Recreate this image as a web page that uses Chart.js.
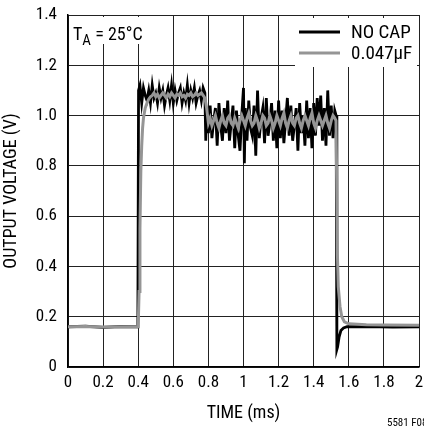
<!DOCTYPE html>
<html><head><meta charset="utf-8">
<script src="https://cdn.jsdelivr.net/npm/chart.js@4"></script>
<style>html,body{margin:0;padding:0;background:#fff;}canvas{display:block;}</style>
</head><body>
<canvas id="c" width="424" height="429"></canvas>
<script>
// ---- tick values / labels ----
const xTickValues = [0,0.2,0.4,0.6,0.8,1,1.2,1.4,1.6,1.8,2];
const xTickLabels = ['0','0.2','0.4','0.6','0.8','1','1.2','1.4','1.6','1.8','2'];
const yTickValues = [0,0.2,0.4,0.6,0.8,1,1.2,1.4];
const yTickLabels = ['0','0.2','0.4','0.6','0.8','1.0','1.2','1.4'];

// ---- series: NO CAP (black) ----
const noCapX = [0,0.1,0.2,0.3,0.398,0.402,
  0.41,0.42,0.43,0.44,0.45,0.46,0.47,0.48,0.49,0.50,0.51,0.52,0.53,0.54,0.55,0.56,0.57,0.58,0.59,0.60,
  0.61,0.62,0.63,0.64,0.65,0.66,0.67,0.68,0.69,0.70,0.71,0.72,0.73,0.74,0.75,0.76,0.77,
  0.78,0.785,0.79,0.80,
  0.81,0.82,0.83,0.84,0.85,0.86,0.87,0.88,0.89,0.90,0.91,0.92,0.93,0.94,0.95,0.96,0.97,0.98,0.99,1.00,1.005,
  1.01,1.02,1.03,1.04,1.05,1.06,1.07,1.08,1.09,1.10,1.11,1.12,1.13,1.14,1.15,1.16,1.17,1.18,1.19,1.20,
  1.21,1.22,1.23,1.24,1.25,1.26,1.27,1.28,1.29,1.30,1.31,1.32,1.33,1.34,1.35,1.36,1.37,1.38,1.39,1.40,
  1.41,1.42,1.43,1.44,1.45,1.46,1.47,1.48,1.49,1.50,1.51,1.52,
  1.528,1.532,1.536,1.545,1.555,1.57,1.59,1.7,1.85,2.0];
const noCapY = [0.16,0.162,0.158,0.161,0.16,1.10,
  1.12,1.05,1.11,1.08,1.06,1.10,1.05,1.12,1.07,1.09,1.05,1.11,1.07,1.10,1.04,1.08,1.11,1.06,1.12,1.05,
  1.10,1.06,1.09,1.11,1.05,1.09,1.06,1.12,1.05,1.10,1.07,1.11,1.05,1.08,1.10,1.06,1.11,
  1.09,0.90,1.02,0.93,
  1.04,0.91,0.98,1.03,0.88,1.05,0.96,0.90,1.03,0.93,1.06,0.90,0.97,1.04,0.87,1.02,0.92,0.86,1.00,1.11,0.81,
  1.03,0.90,1.06,0.95,0.92,1.04,0.84,1.10,0.91,0.99,1.03,0.89,1.07,0.92,0.97,1.05,0.90,1.02,0.87,1.06,
  0.91,1.02,0.89,0.98,1.07,0.92,1.04,0.90,0.96,1.03,0.86,1.05,0.93,1.00,0.88,1.06,0.91,1.03,0.87,1.05,
  0.92,1.07,0.96,1.08,0.90,1.03,0.88,1.10,0.92,1.04,0.91,1.02,
  1.00,0.07,0.08,0.12,0.145,0.155,0.16,0.161,0.159,0.16];

// ---- series: 0.047µF (gray) ----
const capX = [0,0.1,0.2,0.3,0.40,0.405,0.41,0.415,0.42,0.425,0.43,0.44,0.45,0.46,0.47,
  0.48,0.49,0.50,0.51,0.52,0.53,0.54,0.55,0.56,0.57,0.58,0.59,0.60,0.61,0.62,0.63,0.64,0.65,0.66,0.67,
  0.68,0.69,0.70,0.71,0.72,0.73,0.74,0.75,0.76,0.77,0.78,0.79,0.80,
  0.81,0.82,0.83,0.84,0.85,0.86,0.87,0.88,0.89,0.90,0.91,0.92,0.93,0.94,0.95,0.96,0.97,0.98,0.99,1.00,
  1.01,1.02,1.03,1.04,1.05,1.06,1.07,1.08,1.09,1.10,1.11,1.12,1.13,1.14,1.15,1.16,1.17,1.18,1.19,1.20,
  1.21,1.22,1.23,1.24,1.25,1.26,1.27,1.28,1.29,1.30,1.31,1.32,1.33,1.34,1.35,1.36,1.37,1.38,1.39,1.40,
  1.41,1.42,1.43,1.44,1.45,1.46,1.47,1.48,1.49,1.50,1.51,1.52,1.527,
  1.531,1.535,1.54,1.55,1.56,1.575,1.6,1.7,1.8,2.0];
const capY = [0.16,0.161,0.159,0.16,0.16,0.30,0.55,0.78,0.88,0.95,0.99,1.03,1.05,1.065,1.075,
  1.08,1.09,1.075,1.085,1.07,1.08,1.09,1.08,1.07,1.085,1.075,1.09,1.08,1.07,1.085,1.08,1.09,1.075,1.08,1.07,
  1.085,1.08,1.09,1.075,1.08,1.09,1.08,1.085,1.09,1.08,1.07,1.03,0.97,
  0.99,0.96,0.98,1.00,0.97,0.95,0.98,1.00,0.97,0.96,0.99,1.00,0.97,0.96,0.99,0.97,0.95,0.98,1.00,0.98,
  0.96,0.99,1.01,0.98,0.96,0.97,1.00,0.98,0.95,0.97,1.00,0.99,0.96,0.97,1.00,0.98,0.95,0.97,1.00,0.98,
  0.96,0.99,1.01,0.97,0.95,0.98,1.00,0.97,0.96,0.99,1.00,0.97,0.95,0.98,1.00,0.98,0.96,0.99,1.01,0.97,
  0.95,0.98,1.00,0.98,0.96,0.98,1.00,0.97,0.95,0.98,1.00,0.99,0.98,
  0.75,0.45,0.32,0.24,0.20,0.18,0.172,0.168,0.167,0.166];

const seriesNames = ['NO CAP','0.047µF'];
const FONT = '"Roboto Condensed", "Liberation Sans", Arial, sans-serif';

const toPts = (xs, ys) => xs.map((x, i) => ({x, y: ys[i]}));

const overlay = {
  id: 'overlay',
  beforeDatasetsDraw(chart) {
    const ctx = chart.ctx;
    ctx.save();
    ctx.fillStyle = '#fff';
    ctx.fillRect(69, 17, 82, 27);
    ctx.fillRect(295, 18, 122, 49);
    ctx.fillStyle = '#000';
    ctx.textBaseline = 'alphabetic';
    ctx.textAlign = 'left';
    ctx.font = '18px ' + FONT;
    ctx.fillText('T', 73, 40);
    const tw = ctx.measureText('T').width;
    ctx.font = '15px ' + FONT;
    ctx.fillText('A', 73 + tw, 45);
    const aw = ctx.measureText('A').width;
    ctx.font = '18px ' + FONT;
    ctx.fillText(' = 25°C', 73 + tw + aw, 40);
    // legend
    ctx.lineWidth = 3;
    ctx.strokeStyle = '#000';
    ctx.beginPath(); ctx.moveTo(299, 32); ctx.lineTo(340, 32); ctx.stroke();
    ctx.strokeStyle = '#959595';
    ctx.beginPath(); ctx.moveTo(299, 53); ctx.lineTo(340, 53); ctx.stroke();
    ctx.fillStyle = '#000';
    ctx.font = '19px ' + FONT;
    ctx.textBaseline = 'middle';
    ctx.fillText(seriesNames[0], 351, 33);
    ctx.fillText(seriesNames[1], 351, 54);
    ctx.restore();
  },
  afterDraw(chart) {
    const ctx = chart.ctx;
    ctx.save();
    ctx.fillStyle = '#000';
    ctx.font = '11px ' + FONT;
    ctx.textAlign = 'left';
    ctx.textBaseline = 'middle';
    ctx.fillText('5581 F08', 387, 423);
    ctx.restore();
  }
};

new Chart(document.getElementById('c'), {
  type: 'line',
  data: {
    datasets: [
      {label: seriesNames[1], data: toPts(capX, capY), borderColor: '#959595', borderWidth: 3, pointRadius: 0, tension: 0, order: 0},
      {label: seriesNames[0], data: toPts(noCapX, noCapY), borderColor: '#000', borderWidth: 2.8, pointRadius: 0, tension: 0, order: 1}
    ]
  },
  options: {
    responsive: false,
    devicePixelRatio: 1,
    animation: false,
    layout: {padding: {top: 15, right: 5, left: 0, bottom: 0}},
    plugins: {legend: {display: false}, tooltip: {enabled: false}},
    scales: {
      x: {
        type: 'linear', min: 0, max: 2,
        afterBuildTicks: s => { s.ticks = xTickValues.map(v => ({value: v})); },
        afterFit: s => { s.height = 62; s.paddingLeft = 0; s.paddingRight = 0; },
        ticks: {callback: (v, i) => xTickLabels[i], color: '#000', font: {family: FONT, size: 17}, padding: 6, maxRotation: 0, autoSkip: false},
        grid: {color: '#222', lineWidth: 1, drawTicks: false},
        border: {color: '#000', width: 1.5},
        title: {display: true, text: 'TIME (ms)', color: '#000', font: {family: FONT, size: 18}, padding: {top: 0, bottom: 5}}
      },
      y: {
        type: 'linear', min: 0, max: 1.4,
        afterBuildTicks: s => { s.ticks = yTickValues.map(v => ({value: v})); },
        afterFit: s => { s.width = 68; s.paddingTop = 0; s.paddingBottom = 0; },
        ticks: {callback: (v, i) => yTickLabels[i], color: '#000', font: {family: FONT, size: 17}, padding: 11},
        grid: {color: '#222', lineWidth: 1, drawTicks: false},
        border: {color: '#000', width: 1.5},
        title: {display: true, text: 'OUTPUT VOLTAGE (V)', color: '#000', font: {family: FONT, size: 18}, padding: {top: 1, bottom: 0}}
      }
    }
  },
  plugins: [overlay]
});
</script>
</body></html>
